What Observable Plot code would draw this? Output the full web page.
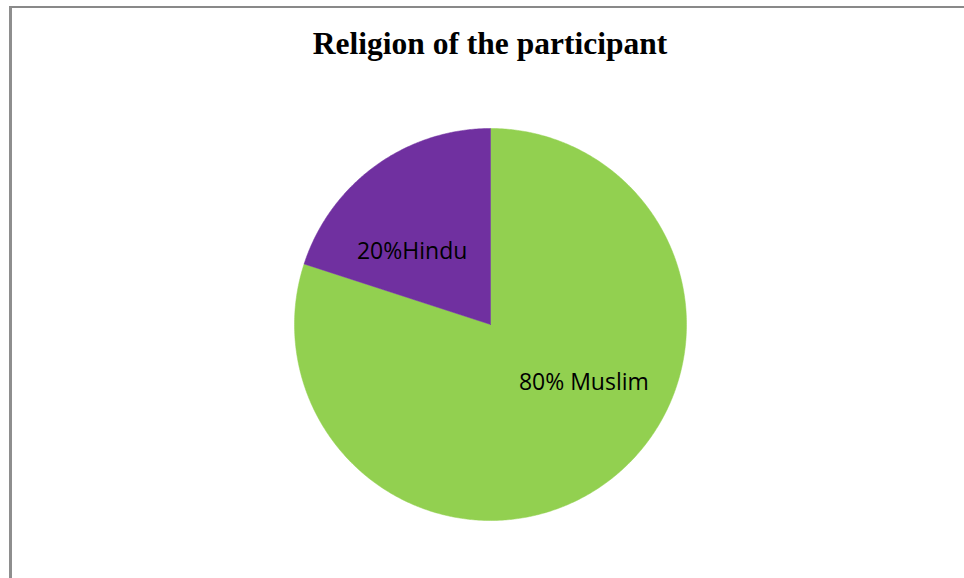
<!DOCTYPE html>
<html>
<head>
<meta charset="utf-8">
<script src="https://cdn.jsdelivr.net/npm/d3@7"></script>
<script src="https://cdn.jsdelivr.net/npm/@observablehq/plot@0.6"></script>
<style>
  html, body { margin: 0; padding: 0; background: #fff; }
  #page { position: relative; width: 964px; height: 578px; overflow: hidden; }
  #frame { position: absolute; left: 9px; top: 6px; width: 960px; height: 580px;
           border-top: 2px solid #898989; border-left: 3px solid #8e8e8e; box-sizing: border-box; pointer-events: none; }
  #title { height: 80px; box-sizing: border-box; padding-top: 27px; line-height: 34px; text-align: center;
           font-family: "Liberation Serif", "Times New Roman", serif; font-weight: bold; font-size: 31.5px; color: #000;
           padding-left: 16px; white-space: nowrap; }
  #chart svg { display: block; }
</style>
</head>
<body>
<div id="page">
  <div id="title">Religion of the participant</div>
  <div id="chart"></div>
  <div id="frame"></div>
</div>
<script>
const religions = ["Muslim", "Hindu"];
const shares = [80, 20];
const labels = ["80% Muslim", "20%Hindu"];
const colors = ["#92D050", "#7030A0"];

const pie = d3.pie().sort(null).value(d => d.share)(religions.map((name, i) => ({name, share: shares[i], label: labels[i]})));

// slice outlines in unit-circle coordinates (angle clockwise from 12 o'clock)
const outline = [];
for (const s of pie) {
  outline.push({name: s.data.name, x: 0, y: 0});
  const n = Math.max(2, Math.ceil((s.endAngle - s.startAngle) / (Math.PI / 360)));
  for (let k = 0; k <= n; k++) {
    const a = s.startAngle + (s.endAngle - s.startAngle) * k / n;
    outline.push({name: s.data.name, x: Math.sin(a), y: Math.cos(a)});
  }
  outline.push({name: s.data.name, x: 0, y: 0});
}

const labelPts = pie.map(s => {
  const a = (s.startAngle + s.endAngle) / 2;
  return {name: s.data.name, label: s.data.label, x: 0.55 * Math.sin(a), y: 0.55 * Math.cos(a)};
});

const textStyle = {fontFamily: "'Open Sans', sans-serif", fontSize: 23, fill: "#000", text: "label", x: "x", y: "y"};

const chart = Plot.plot({
  width: 964,
  height: 498,
  margin: 0,
  x: {domain: [-1, 1], range: [294, 686], axis: null},
  y: {domain: [-1, 1], range: [440, 48], axis: null},
  color: {domain: religions, range: colors},
  marks: [
    Plot.line(outline, {x: "x", y: "y", z: "name", fill: "name", stroke: "name", strokeWidth: 0.5, curve: "linear"}),
    Plot.text(labelPts.filter(d => d.name === "Hindu"), {...textStyle, dx: -15, dy: 14}),
    Plot.text(labelPts.filter(d => d.name === "Muslim"), {...textStyle, dx: 30, dy: -29})
  ]
});
document.getElementById("chart").appendChild(chart);
</script>
</body>
</html>
